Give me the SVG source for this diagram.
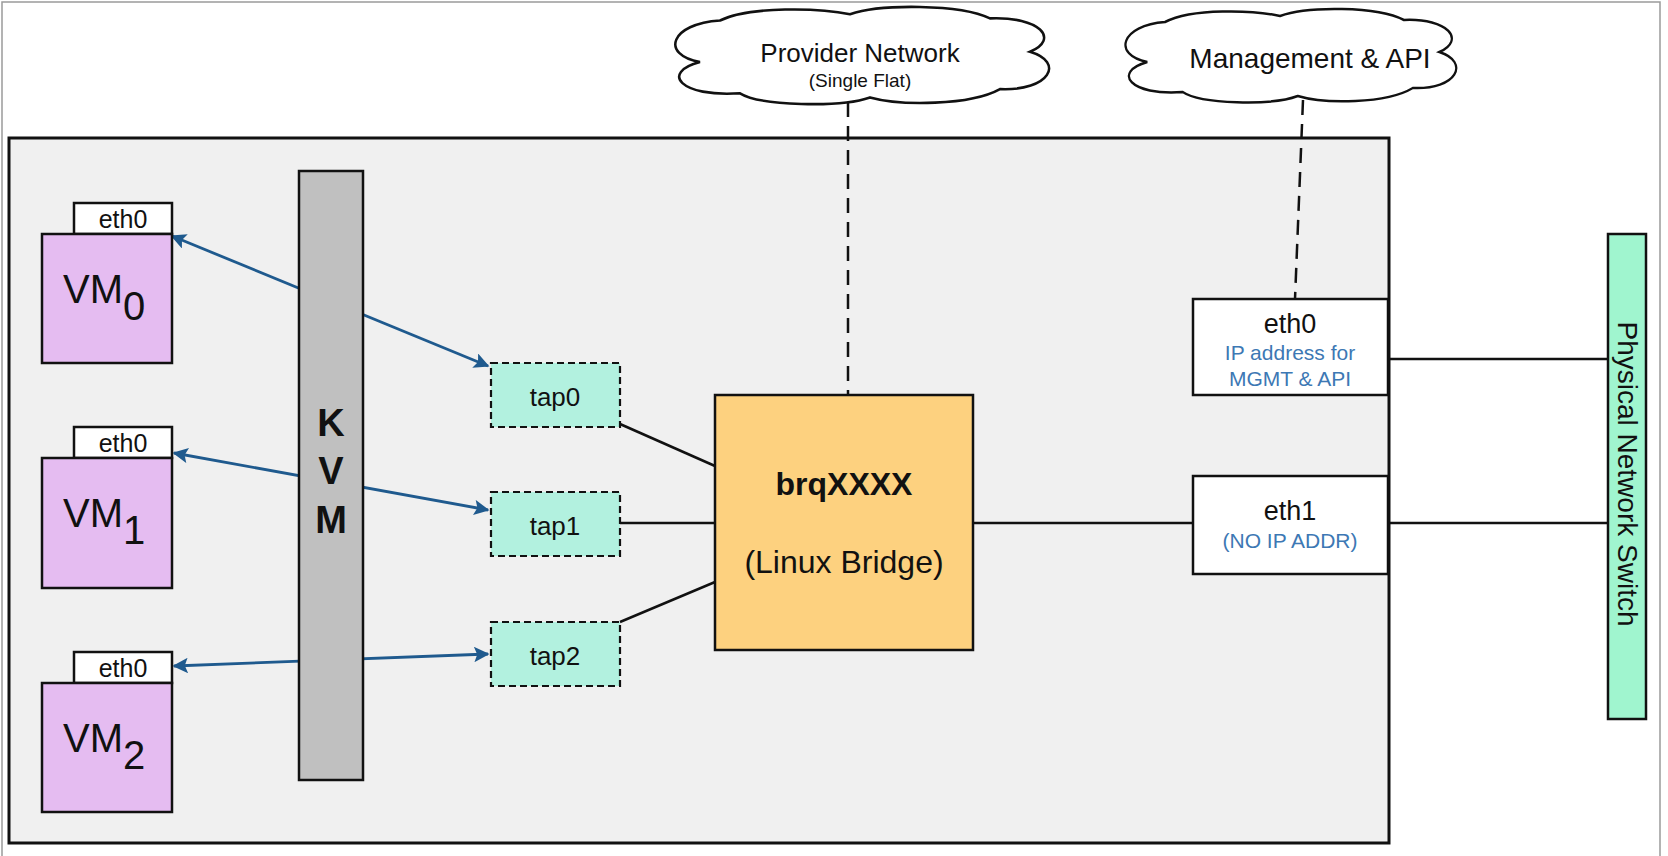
<svg xmlns="http://www.w3.org/2000/svg" width="1668" height="856" viewBox="0 0 1668 856">
<defs>
<style>
text{font-family:"Liberation Sans",Arial,sans-serif;fill:#111}
.box{stroke:#111;stroke-width:2.5}
.vm{fill:#e5bcf1}
.tab{fill:#fff}
.tap{fill:#b2f1df;stroke:#111;stroke-width:2.2;stroke-dasharray:7,4}
.ln{stroke:#111;stroke-width:2.5;fill:none}
.dash{stroke:#111;stroke-width:2.5;fill:none;stroke-dasharray:15,9}
.arr{stroke:#1f5a8e;stroke-width:2.8;fill:none;marker-start:url(#ah);marker-end:url(#ah)}
.blue{fill:#3d78b4}
.cloud{fill:#fff;stroke:#111;stroke-width:2.5}
</style>
<marker id="ah" viewBox="0 0 10 10" refX="9" refY="5" markerWidth="6.5" markerHeight="5.5" orient="auto-start-reverse" markerUnits="strokeWidth">
<path d="M0,0 L10,5 L0,10 L2,5 Z" fill="#1f5a8e"/>
</marker>
<path id="cloudshape" d="M 32,52 C -8,45 2,15 52,12 C 82,-2 152,0 182,6 C 212,-4 292,-4 322,10 C 372,8 392,30 362,42 C 397,52 382,80 332,78 C 302,94 232,94 202,86 C 172,96 92,94 72,82 C 12,86 -8,62 32,52 Z"/>
</defs>
<rect x="0" y="0" width="1668" height="856" fill="#fff"/>
<rect x="2" y="2" width="1658" height="870" fill="none" stroke="#9a9a9a" stroke-width="1.5"/>

<g id="host">
<rect x="9" y="138" width="1380" height="705" fill="#f0f0f0" stroke="#111" stroke-width="3"/>
</g>

<g id="connectors">
<line class="dash" x1="848" y1="102" x2="848" y2="395"/>
<line class="dash" x1="1303" y1="100" x2="1295" y2="299"/>
<line class="arr" x1="172" y1="236" x2="488" y2="366"/>
<line class="arr" x1="174" y1="453" x2="488" y2="510"/>
<line class="arr" x1="174" y1="666" x2="488" y2="654"/>
<line class="ln" x1="620" y1="424" x2="715" y2="466"/>
<line class="ln" x1="620" y1="523" x2="715" y2="523"/>
<line class="ln" x1="620" y1="622" x2="715" y2="582"/>
<line class="ln" x1="973" y1="523" x2="1193" y2="523"/>
<line class="ln" x1="1388" y1="523" x2="1608" y2="523"/>
<line class="ln" x1="1388" y1="359" x2="1608" y2="359"/>
</g>

<g id="cloud-provider">
<use href="#cloudshape" class="cloud" transform="translate(668,8) scale(1,1.04)"/>
<text x="860" y="62" font-size="26" text-anchor="middle">Provider Network</text>
<text x="860" y="87" font-size="19" text-anchor="middle">(Single Flat)</text>
</g>
<g id="cloud-mgmt">
<use href="#cloudshape" class="cloud" transform="translate(1119,10) scale(0.885,1)"/>
<text x="1310" y="68" font-size="28" text-anchor="middle">Management &amp; API</text>
</g>

<g id="vm0">
<rect class="box tab" x="74" y="203" width="98" height="31"/>
<text x="123" y="228" font-size="25" text-anchor="middle">eth0</text>
<rect class="box vm" x="42" y="234" width="130" height="129"/>
<text x="63" y="303" font-size="40">VM<tspan dy="17">0</tspan></text>
</g>
<g id="vm1">
<rect class="box tab" x="74" y="427" width="98" height="31"/>
<text x="123" y="452" font-size="25" text-anchor="middle">eth0</text>
<rect class="box vm" x="42" y="458" width="130" height="130"/>
<text x="63" y="527" font-size="40">VM<tspan dy="17">1</tspan></text>
</g>
<g id="vm2">
<rect class="box tab" x="74" y="652" width="98" height="31"/>
<text x="123" y="677" font-size="25" text-anchor="middle">eth0</text>
<rect class="box vm" x="42" y="683" width="130" height="129"/>
<text x="63" y="752" font-size="40">VM<tspan dy="17">2</tspan></text>
</g>

<g id="kvm">
<rect class="box" x="299" y="171" width="64" height="609" fill="#c0c0c0"/>
<text x="331" y="436" font-size="38" font-weight="bold" text-anchor="middle">K</text>
<text x="331" y="484" font-size="38" font-weight="bold" text-anchor="middle">V</text>
<text x="331" y="533" font-size="38" font-weight="bold" text-anchor="middle">M</text>
</g>

<g id="tap0">
<rect class="tap" x="491" y="363" width="129" height="64"/>
<text x="555" y="406" font-size="26" text-anchor="middle">tap0</text>
</g>
<g id="tap1">
<rect class="tap" x="491" y="492" width="129" height="64"/>
<text x="555" y="535" font-size="26" text-anchor="middle">tap1</text>
</g>
<g id="tap2">
<rect class="tap" x="491" y="622" width="129" height="64"/>
<text x="555" y="665" font-size="26" text-anchor="middle">tap2</text>
</g>

<g id="bridge">
<rect class="box" x="715" y="395" width="258" height="255" fill="#fdd17f"/>
<text x="844" y="495" font-size="32" font-weight="bold" text-anchor="middle">brqXXXX</text>
<text x="844" y="573" font-size="32" text-anchor="middle">(Linux Bridge)</text>
</g>

<g id="eth0-host">
<rect class="box" x="1193" y="299" width="195" height="96" fill="#fff"/>
<text x="1290" y="333" font-size="27" text-anchor="middle">eth0</text>
<text class="blue" x="1290" y="360" font-size="21" text-anchor="middle">IP address for</text>
<text class="blue" x="1290" y="386" font-size="21" text-anchor="middle">MGMT &amp; API</text>
</g>
<g id="eth1-host">
<rect class="box" x="1193" y="476" width="195" height="98" fill="#fff"/>
<text x="1290" y="520" font-size="27" text-anchor="middle">eth1</text>
<text class="blue" x="1290" y="548" font-size="21" text-anchor="middle">(NO IP ADDR)</text>
</g>

<g id="switch">
<rect class="box" x="1608" y="234" width="38" height="485" fill="#a0f5cf"/>
<text x="0" y="0" font-size="28" text-anchor="middle" transform="translate(1618,474) rotate(90)">Physical Network Switch</text>
</g>
</svg>
